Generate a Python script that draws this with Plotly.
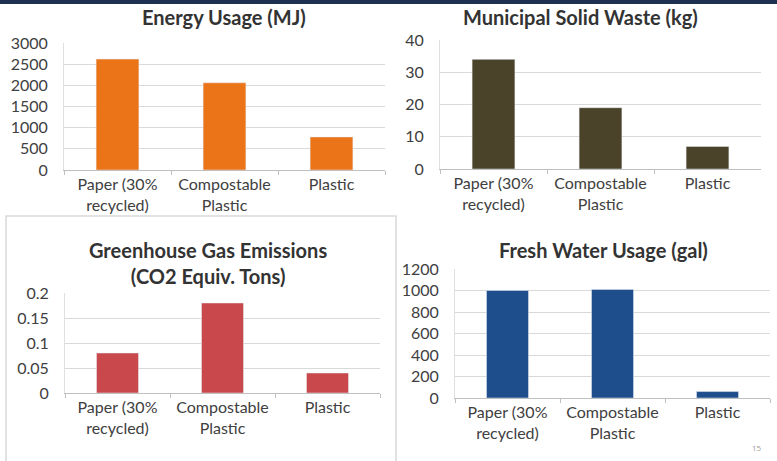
import plotly.graph_objects as go

categories = ["Paper (30%<br>recycled)", "Compostable<br>Plastic", "Plastic"]
energy_mj = [2620, 2060, 780]
solid_waste_kg = [34, 19, 7]
ghg_tons = [0.08, 0.18, 0.04]
water_gal = [1000, 1010, 60]

titles = ["Energy Usage (MJ)", "Municipal Solid Waste (kg)",
          "Greenhouse Gas Emissions<br>(CO2 Equiv. Tons)", "Fresh Water Usage (gal)"]
colors = ["#EC7418", "#4B4329", "#C8484B", "#1F4E8D"]

W, H = 777, 461
def px(x): return x / W
def py(y): return 1 - y / H

panels = [
    dict(vals=energy_mj, x=(64, 385), y=(170, 43), rng=[0, 3000], dt=500, ttl=(224, 17)),
    dict(vals=solid_waste_kg, x=(440, 761), y=(169, 40), rng=[0, 40], dt=10, ttl=(580, 17)),
    dict(vals=ghg_tons, x=(65, 380), y=(393, 293), rng=[0, 0.2], dt=0.05, ttl=(208, 263)),
    dict(vals=water_gal, x=(455, 770), y=(398, 269), rng=[0, 1200], dt=200, ttl=(603, 250)),
]

fig = go.Figure()
font_fam = "Lato, 'Open Sans', sans-serif"
for i, p in enumerate(panels):
    n = "" if i == 0 else str(i + 1)
    fig.add_trace(go.Bar(x=categories, y=p["vals"], marker_color=colors[i],
                         width=0.4, xaxis="x" + n, yaxis="y" + n, showlegend=False))
    fig.update_layout(**{
        "xaxis" + n: dict(domain=[px(p["x"][0]), px(p["x"][1])], anchor="y" + n,
                          showline=True, linecolor="#BFBFBF", ticks="outside", ticklen=4,
                          tickcolor="#BFBFBF", tickson="boundaries", showgrid=False,
                          tickangle=0, automargin=False,
                          tickfont=dict(size=16, color="#404040", family=font_fam)),
        "yaxis" + n: dict(domain=[py(p["y"][0]), py(p["y"][1])], anchor="x" + n,
                          range=p["rng"], dtick=p["dt"], showline=True, linecolor="#E0E0E0",
                          gridcolor="#D9D9D9", zeroline=False, ticks="", ticklabelstandoff=12,
                          automargin=False,
                          tickfont=dict(size=16, color="#404040", family=font_fam)),
    })
    fig.add_annotation(text="<b>" + titles[i] + "</b>", x=px(p["ttl"][0]), y=py(p["ttl"][1]),
                       xref="paper", yref="paper", xanchor="center", yanchor="middle",
                       showarrow=False,
                       font=dict(size=20, color="#333333", family=font_fam))

fig.add_shape(type="rect", xref="paper", yref="paper", x0=px(6), x1=px(396), y0=-0.01, y1=py(216),
              line=dict(color="#D9D9D9", width=1.5))
fig.add_shape(type="rect", xref="paper", yref="paper", x0=0, x1=1, y0=py(4), y1=1,
              fillcolor="#1F3150", line=dict(width=0))
fig.add_annotation(text="15", x=px(757), y=py(447), xref="paper", yref="paper",
                   xanchor="center", yanchor="middle",
                   showarrow=False, font=dict(size=8, color="#A0A0A0"))

fig.update_layout(width=W, height=H, margin=dict(l=0, r=0, t=0, b=0),
                  paper_bgcolor="white", plot_bgcolor="white", bargap=0.6)
fig.write_html("out.html")
